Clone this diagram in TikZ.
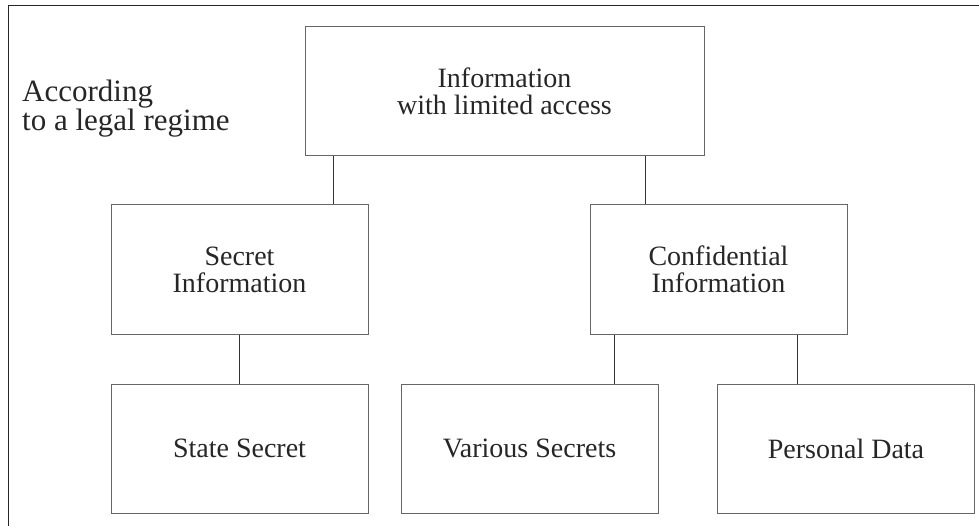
\documentclass[tikz,border=0pt]{standalone}
\usepackage{fontspec}
\setmainfont{Liberation Serif}
\usepackage{tikz}
\usetikzlibrary{positioning}

\begin{document}
\begin{tikzpicture}[x=1pt,y=-1pt,
  box/.style={draw=black!60,line width=1pt,minimum width=257pt,minimum height=129pt,
    inner sep=0pt,align=center,text=black!85,font=\fontsize{28}{27}\selectfont},
  link/.style={draw=black!80,line width=0.8pt}]
\useasboundingbox (0,0) rectangle (979,526);

% Draw frame
\draw[black!85,line width=1pt] (979,6) -- (8,6) -- (8,526);

% Draw label
\node[anchor=north west,inner sep=0pt,align=left,text=black!85,
  font=\fontsize{31}{22}\selectfont] (regime) at (22,80) {According\\to a legal regime};

% Draw boxes
\node[box,minimum width=399pt] (limited) at (504.5,91.5) {Information\\with limited access};
\node[box] (secret) at (239.5,269.5) {Secret\\Information};
\node[box] (confidential) at (718.5,269.5) {Confidential\\Information};
\node[box] (state) at (239.5,448.5) {State Secret};
\node[box] (various) at (529.5,448.5) {Various Secrets};
\node[box] (personal) at (846,448.5) {Personal Data};

% Draw links
\draw[link] ([xshift=29pt]limited.south west) -- ([xshift=29pt]limited.south west |- secret.north);
\draw[link] ([xshift=-59pt]limited.south east) -- ([xshift=-59pt]limited.south east |- confidential.north);
\draw[link] (secret.south) -- (state.north);
\draw[link] ([xshift=25pt]confidential.south west) -- ([xshift=25pt]confidential.south west |- various.north);
\draw[link] ([xshift=-50pt]confidential.south east) -- ([xshift=-50pt]confidential.south east |- personal.north);

\end{tikzpicture}
\end{document}
